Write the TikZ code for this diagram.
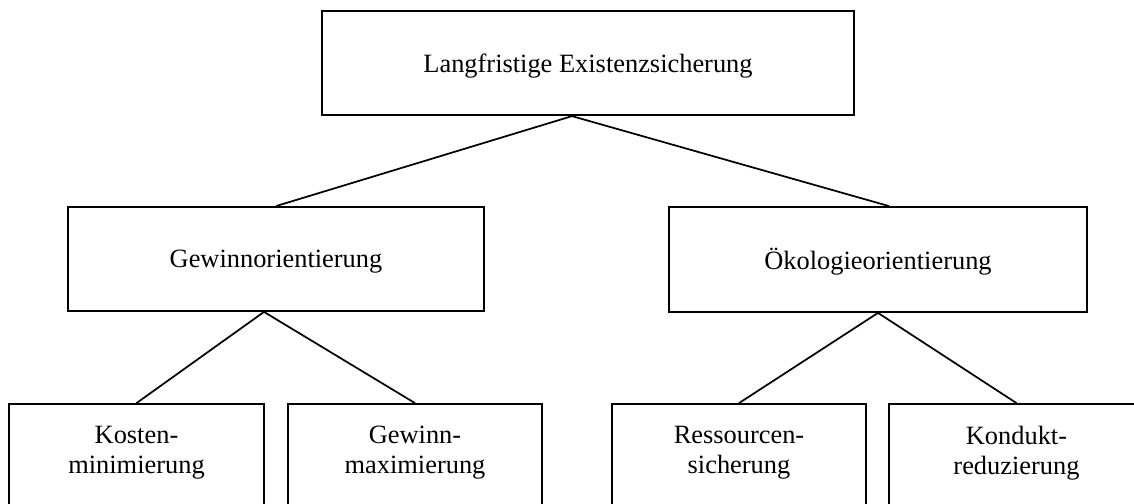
\documentclass[tikz,border=0pt]{standalone}
\usepackage{fontspec}
\setmainfont{Liberation Serif}
\begin{document}
\begin{tikzpicture}[x=0.75pt,y=-0.75pt,
  box/.style={draw=black,line width=1.35pt,fill=none,inner sep=0pt},
  txt/.style={font=\fontsize{19.8}{22.5}\selectfont,align=center,inner sep=0pt},
  link/.style={draw=black,line width=1.3pt}]
  \useasboundingbox (0,0) rectangle (1134,503);
  \clip (0,0) rectangle (1134,503);

  % level 0
  \node[box,line width=1.7pt,minimum width=532*0.75pt,minimum height=104*0.75pt] (top) at (588,63) {};
  \node[txt] (toptxt) at (588,66) {Langfristige Existenzsicherung};

  % level 1
  \node[box,minimum width=416*0.75pt,minimum height=104*0.75pt] (gew) at (276,259) {};
  \node[txt] (gewtxt) at (276,262) {Gewinnorientierung};
  \node[box,minimum width=418*0.75pt,minimum height=105*0.75pt] (oek) at (878,259.5) {};
  \node[txt] (oektxt) at (878,262) {Ökologieorientierung};

  % level 2 (boxes run past the lower edge)
  \node[box,minimum width=255*0.75pt,minimum height=130*0.75pt] (kos) at (136.5,469) {};
  \node[txt] (kostxt) at (136.5,453) {Kosten-\\minimierung};
  \node[box,minimum width=254*0.75pt,minimum height=130*0.75pt] (gmax) at (415,469) {};
  \node[txt] (gmaxtxt) at (415,453) {Gewinn-\\maximierung};
  \node[box,minimum width=254*0.75pt,minimum height=130*0.75pt] (res) at (739,469) {};
  \node[txt] (restxt) at (739,453) {Ressourcen-\\sicherung};
  \node[box,minimum width=255*0.75pt,minimum height=130*0.75pt] (kon) at (1016.5,469) {};
  \node[txt] (kontxt) at (1016.5,453) {Kondukt-\\reduzierung};

  % connectors
  \draw[link] (gew.north) -- ([xshift=-12pt]top.south) -- ([xshift=8.25pt]oek.north);
  \draw[link] (kos.north) -- ([xshift=-9pt]gew.south) -- (gmax.north);
  \draw[link] (res.north) -- (oek.south) -- (kon.north);
\end{tikzpicture}
\end{document}
